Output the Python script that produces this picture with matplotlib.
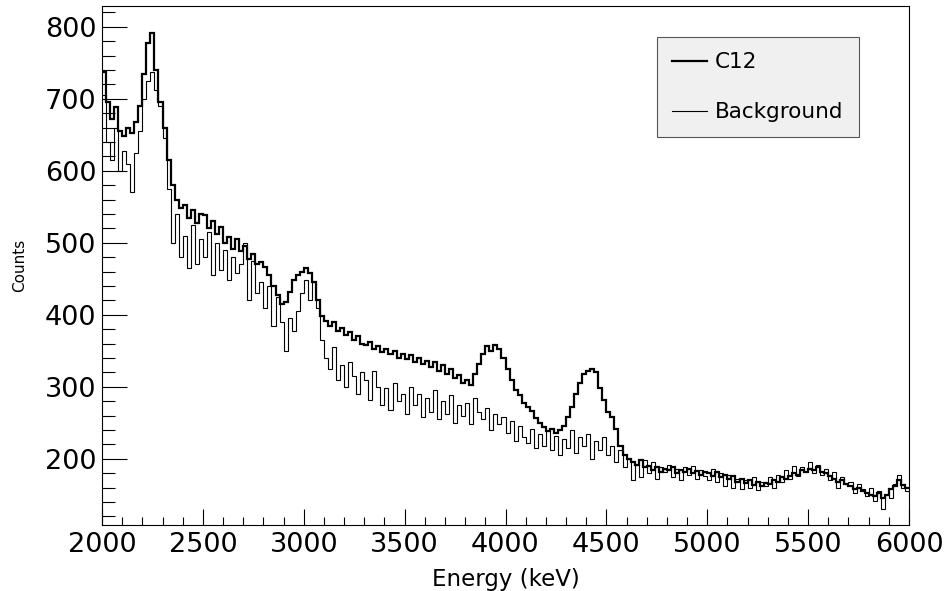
import numpy as np
import matplotlib
matplotlib.use('Agg')
import matplotlib.pyplot as plt
from matplotlib.ticker import MultipleLocator

# Histogramme 2000-6000 keV, pas de 20 keV (200 bins)
e_min, e_max, bin_w = 2000, 6000, 20

c12 = [
    738, 695, 672, 688, 655, 648, 660, 652, 668, 690,
    735, 778, 792, 740, 695, 660, 615, 580, 560, 548,
    552, 535, 545, 528, 540, 538, 520, 530, 512, 522,
    500, 508, 492, 505, 488, 495, 478, 485, 470, 474,
    466, 455, 440, 428, 415, 418, 432, 448, 455, 460,
    465, 458, 445, 420, 398, 392, 385, 390, 378, 382,
    372, 376, 365, 370, 360, 358, 362, 352, 356, 348,
    352, 345, 350, 340, 346, 338, 344, 335, 340, 332,
    336, 328, 334, 322, 330, 318, 325, 312, 316, 305,
    310, 302, 318, 332, 345, 356, 350, 358, 352, 340,
    325, 310, 296, 288, 278, 272, 266, 256, 250, 244,
    238, 242, 236, 240, 246, 258, 272, 290, 305, 318,
    322, 325, 320, 298, 282, 265, 258, 242, 218, 205,
    200, 196, 192, 198, 188, 190, 185, 188, 182, 186,
    184, 188, 180, 185, 182, 186, 180, 183, 178, 182,
    180, 176, 182, 175, 178, 172, 176, 168, 172, 166,
    170, 164, 168, 162, 166, 165, 170, 168, 174, 172,
    176, 180, 178, 184, 182, 186, 184, 188, 182, 180,
    176, 172, 168, 170, 165, 162, 158, 160, 155, 152,
    150, 148, 152, 145, 150, 158, 162, 170, 164, 160,
]

background = [
    705, 640, 615, 660, 600, 628, 610, 570, 625, 655,
    700, 725, 738, 712, 690, 645, 575, 500, 540, 480,
    510, 465, 525, 470, 505, 480, 515, 455, 500, 462,
    490, 448, 480, 458, 470, 500, 420, 475, 430, 445,
    410, 440, 385, 425, 390, 350, 395, 378, 405, 430,
    448, 420, 445, 410, 365, 340, 325, 355, 310, 330,
    300, 335, 315, 290, 320, 310, 282, 322, 300, 275,
    298, 268, 305, 280, 290, 262, 300, 275, 290, 258,
    285, 265, 296, 255, 280, 262, 288, 250, 275, 260,
    278, 248, 285, 265, 255, 270, 240, 262, 248, 258,
    236, 252, 225, 245, 230, 222, 242, 215, 235, 218,
    238, 212, 232, 205, 228, 215, 240, 208, 230, 218,
    235, 200, 225, 212, 230, 205, 218, 195, 212, 188,
    200, 170, 192, 175, 198, 180, 195, 172, 188, 182,
    192, 175, 186, 170, 188, 178, 190, 172, 185, 176,
    170, 186, 168, 180, 162, 178, 160, 172, 158, 170,
    160, 174, 156, 168, 162, 175, 160, 178, 168, 185,
    172, 190, 176, 188, 182, 195, 180, 192, 178, 186,
    170, 182, 160, 175, 165, 168, 152, 165, 158, 148,
    160, 142, 155, 130, 150, 145, 165, 178, 160, 155,
]

edges = np.arange(e_min, e_max + bin_w, bin_w)

fig = plt.figure(figsize=(9.44, 5.91), dpi=100)
ax = fig.add_axes([102/944, 1 - 525/591, 807/944, 519/591])

ax.stairs(c12, edges, baseline=None, color='black', linewidth=1.6, label='C12')
ax.stairs(background, edges, baseline=None, color='black', linewidth=0.8,
          label='Background')

ax.set_xlim(e_min, e_max)
ax.set_ylim(108, 829)

ax.xaxis.set_major_locator(MultipleLocator(500))
ax.xaxis.set_minor_locator(MultipleLocator(100))
ax.yaxis.set_major_locator(MultipleLocator(100))
ax.yaxis.set_minor_locator(MultipleLocator(20))

ax.tick_params(axis='both', which='both', direction='in', top=False, right=False,
               width=0.8, labelsize=19.5)
ax.tick_params(axis='x', which='major', length=11.5, pad=5)
ax.tick_params(axis='x', which='minor', length=5.8)
ax.tick_params(axis='y', which='major', length=18, pad=4)
ax.tick_params(axis='y', which='minor', length=9.4)
for s in ax.spines.values():
    s.set_linewidth(0.8)

ax.set_xlabel('Energy (keV)', fontsize=16.5)
ax.xaxis.set_label_coords(0.5, -0.082)
ax.set_ylabel('Counts', fontsize=11, va='center')
ax.yaxis.set_label_coords(-0.1016, 0.5)

leg = ax.legend(loc='upper left',
                bbox_to_anchor=(657/944, 1 - 137/591, 202/944, 100/591),
                bbox_transform=fig.transFigure, mode='expand', fontsize=15.5,
                fancybox=False, framealpha=1, borderpad=0.7, labelspacing=1.4,
                handlelength=1.6, handletextpad=0.4, borderaxespad=0)
leg.get_frame().set_facecolor('#f0f0f0')
leg.get_frame().set_edgecolor('#555555')
leg.get_frame().set_linewidth(0.8)

fig.savefig('out.png', dpi=100)
